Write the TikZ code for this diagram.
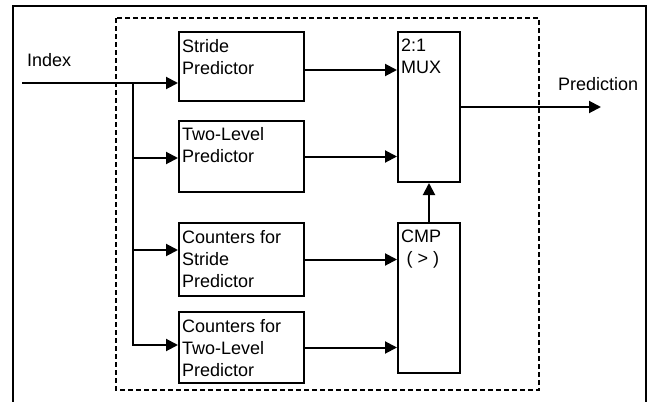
\documentclass[tikz,border=0pt]{standalone}
\usepackage{fontspec}
\setmainfont{Liberation Sans}
\usetikzlibrary{arrows.meta,calc}
\begin{document}
\begin{tikzpicture}[x=1pt,y=-1pt,
  box/.style={draw,line width=2pt,rectangle,inner sep=0pt},
  txt/.style={anchor=north west,inner sep=0pt,align=left,font=\fontsize{18}{22}\selectfont},
  lbl/.style={anchor=base west,inner sep=0pt,font=\fontsize{18}{22}\selectfont},
  wire/.style={line width=2pt},
  arr/.style={wire,-{Triangle[length=12pt,width=12pt]}},
  frame/.style={line width=2pt},
  dbox/.style={line width=1.3pt,dash pattern=on 5pt off 3pt}]
\useasboundingbox (0,0) rectangle (654,402);
% outer frame
\draw[frame] (13,403) -- (13,6) -- (646,6) -- (646,403);
% dashed enclosure
\draw[dbox] (116,18) rectangle (539,390);
% boxes
\node[box,minimum width=125pt,minimum height=69pt] (sp) at (241.5,66.5) {};
\node[box,minimum width=125pt,minimum height=71pt] (tl) at (241.5,156.5) {};
\node[box,minimum width=125pt,minimum height=73pt] (cs) at (241.5,259.5) {};
\node[box,minimum width=125pt,minimum height=71pt] (ct) at (241.5,347.5) {};
\node[box,minimum width=62pt,minimum height=150pt] (mux) at (429,107) {};
\node[box,minimum width=62pt,minimum height=150pt] (cmp) at (429,298) {};
% box texts
\node[txt] (sptx) at ([shift={(4,8)}]sp.north west) {Stride\\Predictor};
\node[txt] (tltx) at ([shift={(4,7)}]tl.north west) {Two-Level\\Predictor};
\node[txt] (cstx) at ([shift={(4,8)}]cs.north west) {Counters for\\Stride\\Predictor};
\node[txt] (cttx) at ([shift={(4,8)}]ct.north west) {Counters for\\Two-Level\\Predictor};
\node[txt] (muxtx) at ([shift={(4,8)}]mux.north west) {2:1\\MUX};
\node[txt] (cmptx) at ([shift={(4,8)}]cmp.north west) {CMP\\\hspace{0.3em}( > )};
% labels
\node[lbl] (index) at (27,66) {Index};
\node[lbl] (predl) at (558,90) {Prediction};
% coordinates
\coordinate (idx) at (22,83);
\coordinate (br) at (133,82);
\coordinate (pred) at (601,107);
\coordinate (tlin) at ([yshift=-1.5pt]tl.west);
\coordinate (csin) at ([yshift=9.5pt]cs.west);
\coordinate (ctin) at ([yshift=2.5pt]ct.west);
\coordinate (spout) at ([yshift=-3.5pt]sp.east);
% connectors
\draw[arr] (idx) -- (idx -| sp.west);
\draw[arr] (br) |- (ctin);
\draw[arr] (br |- tlin) -- (tlin);
\draw[arr] (br |- csin) -- (csin);
\draw[arr] (spout) -- (spout -| mux.west);
\draw[arr] (tl.east) -- (tl.east -| mux.west);
\draw[arr] (cs.east) -- (cs.east -| cmp.west);
\draw[arr] (ct.east) -- (ct.east -| cmp.west);
\draw[arr] (cmp.north) -- (mux.south);
\draw[arr] (mux.east) -- (pred);
\end{tikzpicture}
\end{document}
